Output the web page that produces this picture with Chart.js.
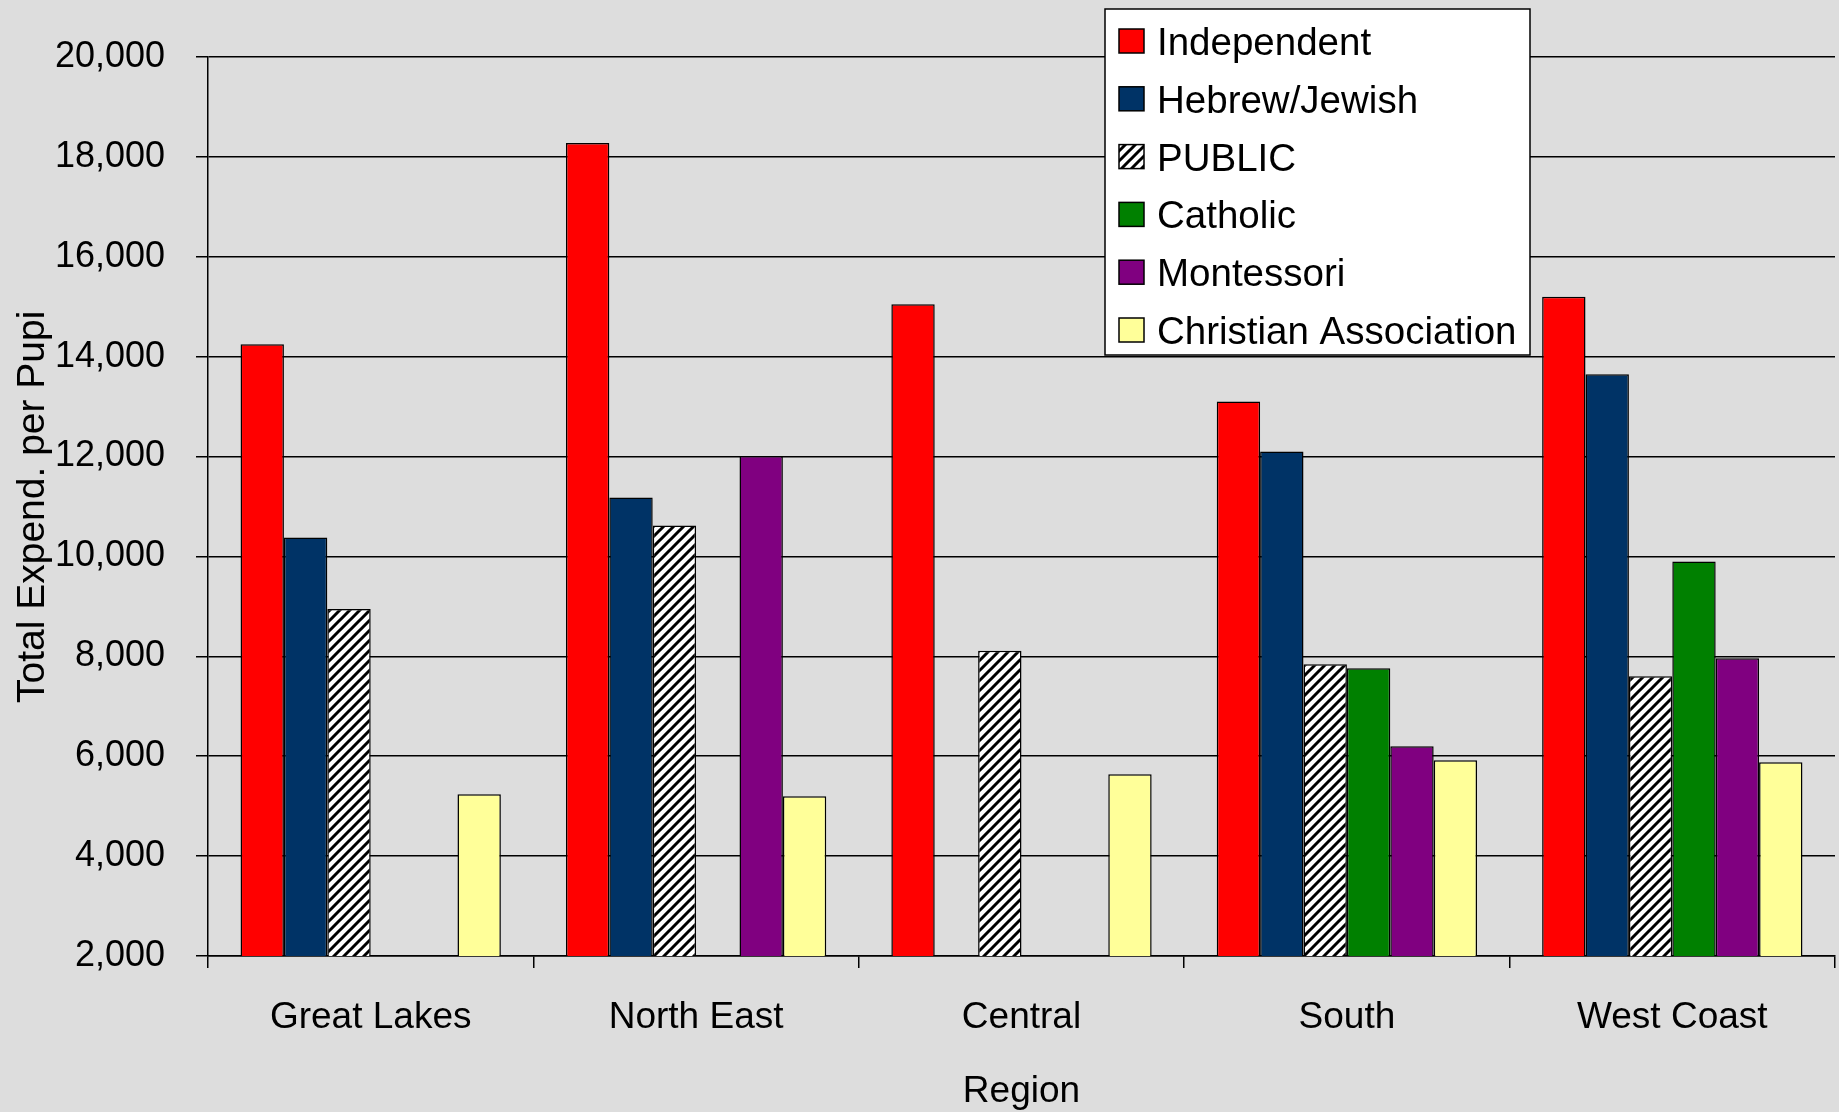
<!DOCTYPE html>
<html>
<head>
<meta charset="utf-8">
<script src="https://cdn.jsdelivr.net/npm/chart.js@4.4.0/dist/chart.umd.min.js"></script>
<style>
  html, body { margin: 0; padding: 0; background: #DDDDDD; }
  #wrap { width: 1839px; height: 1112px; position: relative; }
</style>
</head>
<body>
<div id="wrap"><canvas id="c" width="1839" height="1112" style="width:1839px;height:1112px"></canvas></div>
<script>
// ---- data ----
const regions = ["Great Lakes", "North East", "Central", "South", "West Coast"];
const seriesNames = ["Independent", "Hebrew/Jewish", "PUBLIC", "Catholic", "Montessori", "Christian Association"];
const independent = [14250, 18280, 15050, 13100, 15200];
const hebrewJewish = [10380, 11180, null, 12100, 13650];
const publicSchools = [8950, 10620, 8110, 7840, 7600];
const catholic = [null, null, null, 7760, 9900];
const montessori = [null, 12010, null, 6200, 7960];
const christianAssoc = [5240, 5200, 5640, 5920, 5880];
const yTickValues = [2000, 4000, 6000, 8000, 10000, 12000, 14000, 16000, 18000, 20000];
const yTitle = "Total Expend. per Pupil";
const xTitle = "Region";

const FONT = "'Liberation Sans', Arial, sans-serif";

// hatch pattern for PUBLIC
function makeHatch() {
  const s = 10;
  const pc = document.createElement('canvas');
  pc.width = s; pc.height = s;
  const g = pc.getContext('2d');
  g.fillStyle = '#FFFFFF';
  g.fillRect(0, 0, s, s);
  g.strokeStyle = '#000000';
  g.lineWidth = 3;
  g.beginPath();
  g.moveTo(-2, s + 2); g.lineTo(s + 2, -2);
  g.moveTo(-2, 2); g.lineTo(2, -2);
  g.moveTo(s - 2, s + 2); g.lineTo(s + 2, s - 2);
  g.stroke();
  return document.getElementById('c').getContext('2d').createPattern(pc, 'repeat');
}
const hatch = makeHatch();

const seriesData = [independent, hebrewJewish, publicSchools, catholic, montessori, christianAssoc];
const seriesColors = ['#FF0000', '#003366', hatch, '#008000', '#800080', '#FFFF99'];

const datasets = seriesNames.map((name, i) => ({
  label: name,
  data: seriesData[i],
  backgroundColor: seriesColors[i],
  borderColor: '#000000',
  borderWidth: 1.5,
  borderSkipped: false,
  categoryPercentage: 0.8,
  barPercentage: 1.0
}));

const bgPlugin = {
  id: 'bg',
  beforeDraw(chart) {
    const ctx = chart.ctx;
    ctx.save();
    ctx.fillStyle = '#DDDDDD';
    ctx.fillRect(0, 0, chart.width, chart.height);
    ctx.restore();
  }
};

const yTitlePlugin = {
  id: 'ytitle',
  afterDraw(chart) {
    const ctx = chart.ctx;
    const size = 39;
    ctx.save();
    ctx.beginPath();
    ctx.rect(0, 311, 80, 800);
    ctx.clip();
    ctx.translate(30, 703);
    ctx.rotate(-Math.PI / 2);
    ctx.font = size + "px " + FONT;
    ctx.fillStyle = '#000000';
    ctx.textAlign = 'left';
    ctx.textBaseline = 'alphabetic';
    ctx.fillText(yTitle, 0, 0.358 * size);
    ctx.restore();
  }
};

const legendPlugin = {
  id: 'boxLegend',
  afterDraw(chart) {
    const ctx = chart.ctx;
    const x0 = 1105, y0 = 9, w = 425, h = 346;
    ctx.save();
    ctx.fillStyle = '#FFFFFF';
    ctx.fillRect(x0, y0, w, h);
    ctx.strokeStyle = '#000000';
    ctx.lineWidth = 1.5;
    ctx.strokeRect(x0, y0, w, h);
    ctx.font = "38.5px " + FONT;
    ctx.textAlign = 'left';
    ctx.textBaseline = 'alphabetic';
    chart.data.datasets.forEach((ds, i) => {
      const cy = 41 + i * 57.8;
      ctx.fillStyle = ds.backgroundColor;
      ctx.fillRect(1119, cy - 12, 25, 24);
      ctx.strokeStyle = '#000000';
      ctx.lineWidth = 1.5;
      ctx.strokeRect(1119, cy - 12, 25, 24);
      ctx.fillStyle = '#000000';
      ctx.fillText(ds.label, 1157, cy + 14);
    });
    ctx.restore();
  }
};

new Chart(document.getElementById('c'), {
  type: 'bar',
  data: { labels: regions, datasets },
  options: {
    responsive: false,
    devicePixelRatio: 1,
    animation: false,
    layout: { padding: { left: 0, right: 4, top: 57, bottom: 0 } },
    plugins: {
      legend: { display: false },
      tooltip: { enabled: false },
      title: { display: false }
    },
    scales: {
      x: {
        afterFit(scale) { scale.height = 156; },
        grid: { drawOnChartArea: false, drawTicks: true, tickLength: 12, color: '#000000', lineWidth: 1.5, offset: true },
        border: { color: '#000000', width: 1.5 },
        ticks: { color: '#000000', font: { family: FONT, size: 37, lineHeight: 1.2 }, padding: 28, maxRotation: 0 },
        title: { display: true, text: xTitle, color: '#000000', font: { family: FONT, size: 37, lineHeight: 1.1 }, padding: { top: 0, bottom: 0 } }
      },
      y: {
        min: 2000, max: 20000,
        afterFit(scale) { scale.width = 208; },
        afterBuildTicks(scale) { scale.ticks = yTickValues.map(v => ({ value: v })); },
        grid: { color: '#000000', lineWidth: 1.5, drawTicks: true, tickLength: 12 },
        border: { color: '#000000', width: 1.5 },
        ticks: {
          color: '#000000',
          font: { family: FONT, size: 36 },
          padding: 31,
          callback: (v) => v.toLocaleString('en-US')
        }
      }
    }
  },
  plugins: [bgPlugin, yTitlePlugin, legendPlugin]
});
</script>
</body>
</html>
